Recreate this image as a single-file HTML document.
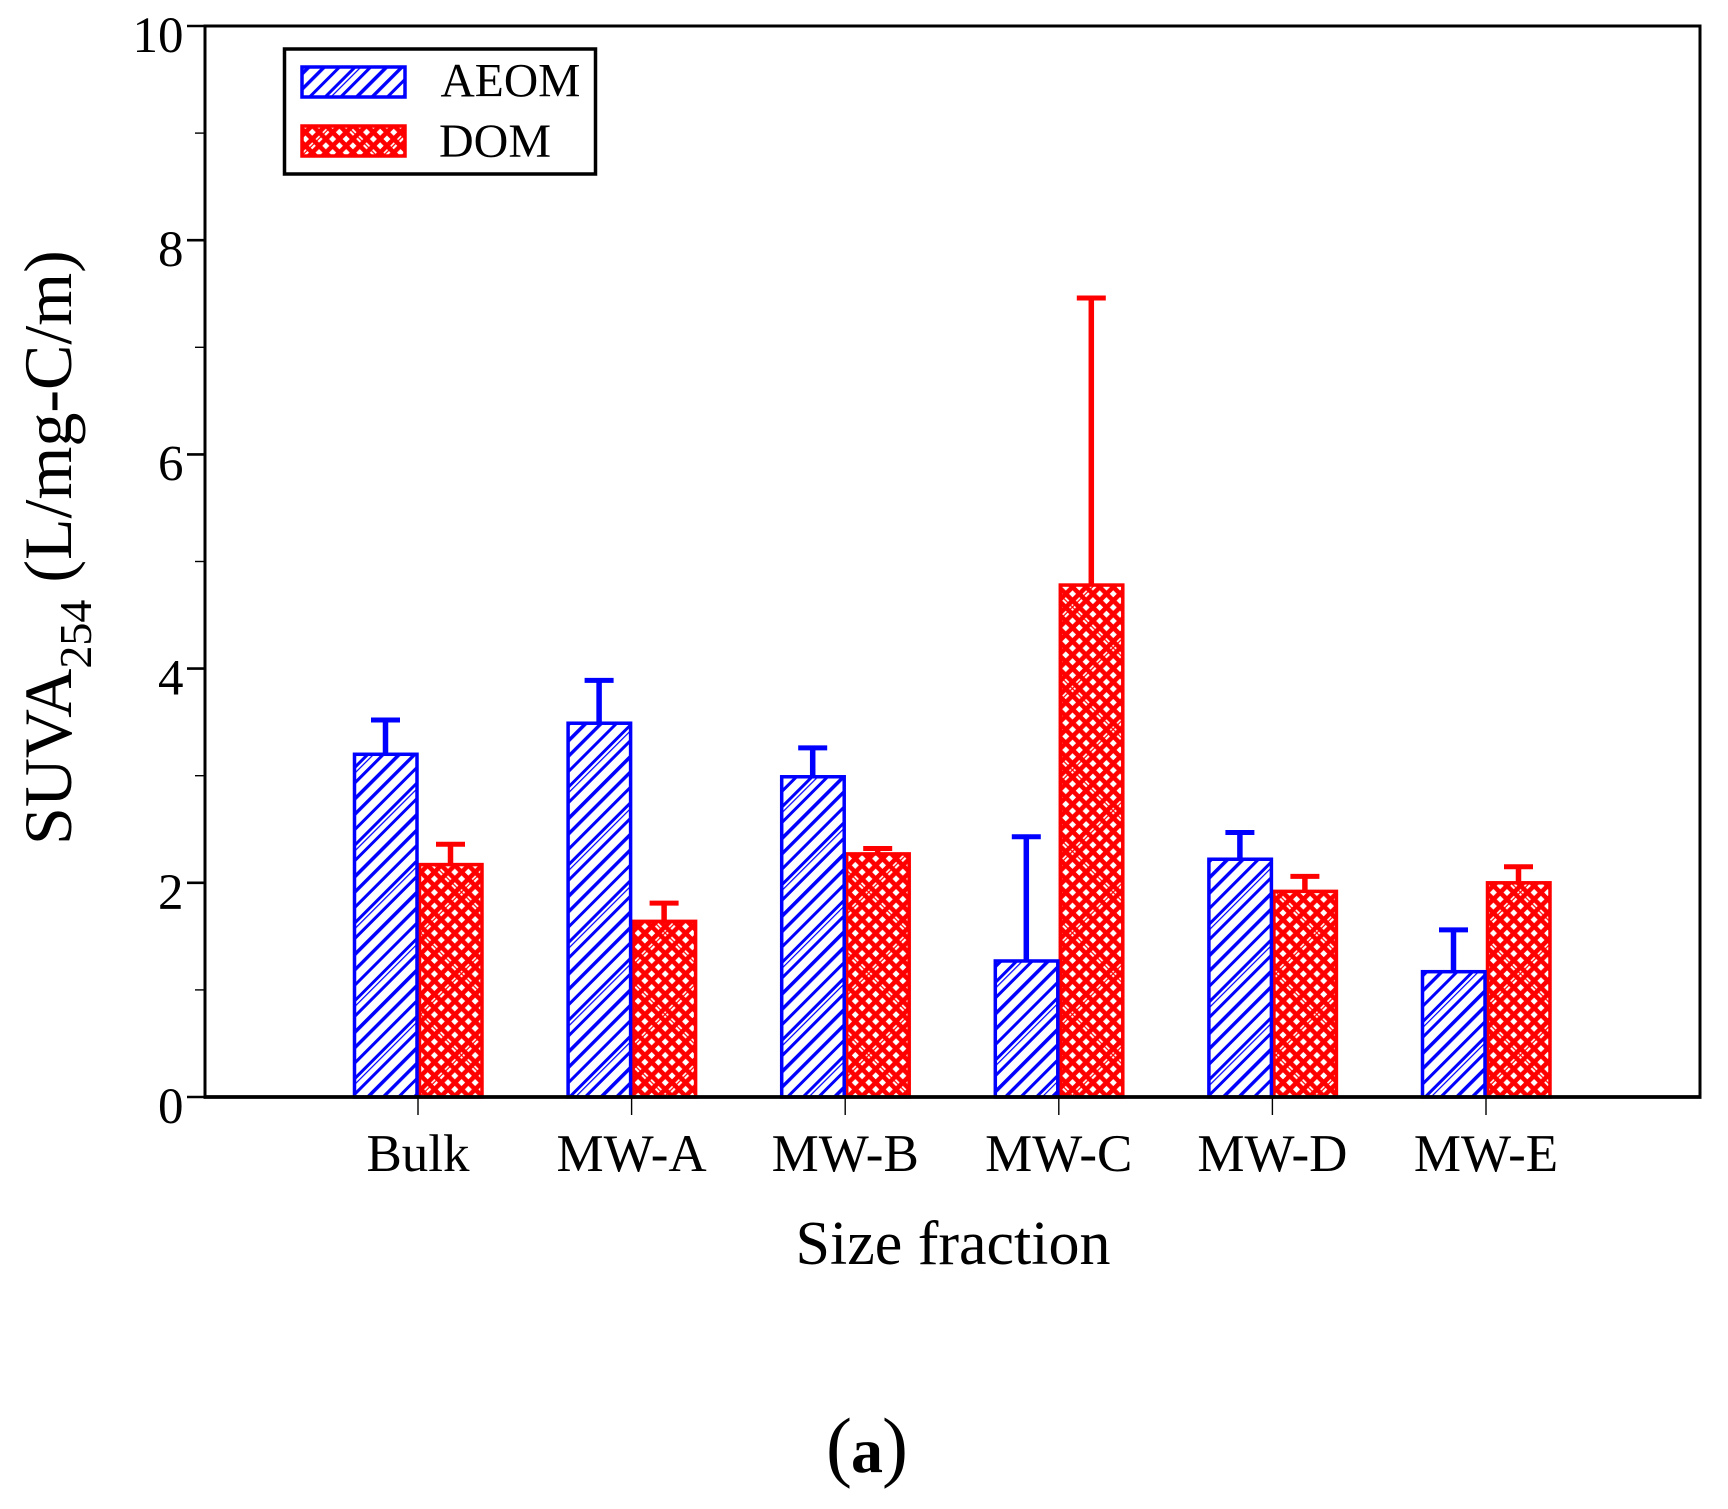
<!DOCTYPE html>
<html lang="en">
<head>
<meta charset="utf-8">
<title>SUVA254 by size fraction</title>
<style>
html,body{margin:0;padding:0;background:#fff;}
svg{display:block;font-family:"Liberation Serif",serif;}
</style>
</head>
<body>
<svg id="chart" xmlns="http://www.w3.org/2000/svg" width="1728" height="1509" viewBox="0 0 1728 1509">
  <defs>
    <pattern id="hatch-blue" patternUnits="userSpaceOnUse" width="55" height="55" patternTransform="rotate(45)">
      <rect width="55" height="55" fill="#fff"/>
      <rect x="0" y="0" width="3.4" height="55" fill="#0000ff"/>
      <rect x="11" y="0" width="3" height="55" fill="#0000ff"/>
      <rect x="22" y="0" width="3" height="55" fill="#0000ff"/>
      <rect x="27" y="0" width="1.2" height="55" fill="#0000ff"/>
      <rect x="33" y="0" width="3" height="55" fill="#0000ff"/>
      <rect x="44" y="0" width="3.6" height="55" fill="#0000ff"/>
    </pattern>
    <pattern id="hatch-red" patternUnits="userSpaceOnUse" width="57.6" height="57.6" patternTransform="rotate(45)">
      <rect width="57.6" height="57.6" fill="#fff"/>
      <rect x="0" y="0" width="4.6" height="57.6" fill="#ff0000"/>
      <rect x="9.6" y="0" width="4.6" height="57.6" fill="#ff0000"/>
      <rect x="19.2" y="0" width="4.6" height="57.6" fill="#ff0000"/>
      <rect x="28.8" y="0" width="4.6" height="57.6" fill="#ff0000"/>
      <rect x="38.4" y="0" width="4.6" height="57.6" fill="#ff0000"/>
      <rect x="48" y="0" width="4.6" height="57.6" fill="#ff0000"/>
      <rect x="35" y="0" width="1.2" height="57.6" fill="#ff0000"/>
      <rect x="0" y="0" width="57.6" height="4.6" fill="#ff0000"/>
      <rect x="0" y="9.6" width="57.6" height="4.6" fill="#ff0000"/>
      <rect x="0" y="19.2" width="57.6" height="4.6" fill="#ff0000"/>
      <rect x="0" y="28.8" width="57.6" height="4.6" fill="#ff0000"/>
      <rect x="0" y="38.4" width="57.6" height="4.6" fill="#ff0000"/>
      <rect x="0" y="48" width="57.6" height="4.6" fill="#ff0000"/>
      <rect x="0" y="16" width="57.6" height="1.2" fill="#ff0000"/>
    </pattern>
  </defs>
  <g id="bars"></g>
  <g id="axes"></g>
  <g id="legend">
    <rect x="284.5" y="49" width="311" height="125" fill="#fff" stroke="#000" stroke-width="3.5"/>
    <rect x="302" y="67" width="103" height="30" fill="url(#hatch-blue)" stroke="#0000ff" stroke-width="3.5"/>
    <text x="440.5" y="96.5" font-size="47.5">AEOM</text>
    <rect x="302" y="126" width="103" height="30" fill="url(#hatch-red)" stroke="#ff0000" stroke-width="3.5"/>
    <text x="439" y="157" font-size="48">DOM</text>
  </g>
  <text x="953" y="1264" font-size="62" text-anchor="middle">Size fraction</text>
  <text transform="translate(71 845) rotate(-90)" font-size="68">SUVA<tspan font-size="46" dy="20">254</tspan><tspan dy="-20"> (L/mg-C/m)</tspan></text>
  <text x="867" y="1472" font-size="78" text-anchor="middle"><tspan dx="0">(</tspan><tspan font-size="64" font-weight="bold" dx="-1">a</tspan><tspan dx="-1">)</tspan></text>
</svg>
<script>
const categories = ["Bulk", "MW-A", "MW-B", "MW-C", "MW-D", "MW-E"];
const aeomValues = [3.20, 3.49, 2.99, 1.27, 2.22, 1.17];
const aeomErrors = [0.32, 0.40, 0.27, 1.16, 0.25, 0.39];
const domValues = [2.17, 1.64, 2.27, 4.78, 1.92, 2.00];
const domErrors = [0.19, 0.17, 0.05, 2.68, 0.14, 0.15];
const majorTicks = [0, 2, 4, 6, 8, 10];
const minorTicks = [1, 3, 5, 7, 9];

const SVG_NS = "http://www.w3.org/2000/svg";
const plot = {left: 205, right: 1700, top: 26, bottom: 1097};
const yMax = 10;
const firstCenter = 418;
const groupStep = 213.6;
const barWidth = 65;

function yScale(v) {
  return plot.bottom - (v / yMax) * (plot.bottom - plot.top);
}
function xCenter(i) {
  return firstCenter + i * groupStep;
}
function make(tag, attrs, parent) {
  const el = document.createElementNS(SVG_NS, tag);
  for (const k in attrs) el.setAttribute(k, attrs[k]);
  parent.appendChild(el);
  return el;
}

const barsG = document.getElementById("bars");
const axesG = document.getElementById("axes");

function drawSeries(values, errors, side, color, fill, key) {
  values.forEach(function (v, i) {
    const x0 = side < 0 ? xCenter(i) - barWidth : xCenter(i);
    const mid = x0 + barWidth / 2;
    const top = yScale(v);
    const errTop = yScale(v + errors[i]);

    const stem = make("line", {x1: mid, x2: mid, y1: top, y2: errTop, stroke: color, "stroke-width": 5.5}, barsG);
    
    

    const cap = make("line", {x1: mid - 14.5, x2: mid + 14.5, y1: errTop, y2: errTop, stroke: color, "stroke-width": 5}, barsG);
    
    

    const bar = make("rect", {x: x0 + 1.5, y: top, width: barWidth - 2.5, height: plot.bottom - top, fill: fill, stroke: color, "stroke-width": 3.5}, barsG);
    
    
  });
}
drawSeries(domValues, domErrors, 1, "#ff0000", "url(#hatch-red)", "dom");
drawSeries(aeomValues, aeomErrors, -1, "#0000ff", "url(#hatch-blue)", "aeom");

const frameTop = make("line", {x1: plot.left - 1.5, x2: plot.right + 1.5, y1: plot.top, y2: plot.top, stroke: "#000", "stroke-width": 3}, axesG);



const frameRight = make("line", {x1: plot.right, x2: plot.right, y1: plot.top, y2: plot.bottom, stroke: "#000", "stroke-width": 3}, axesG);



const yAxisLine = make("line", {x1: plot.left, x2: plot.left, y1: plot.top, y2: plot.bottom, stroke: "#000", "stroke-width": 3}, axesG);



const xAxisLine = make("line", {x1: plot.left - 1.5, x2: plot.right + 1.5, y1: plot.bottom, y2: plot.bottom, stroke: "#000", "stroke-width": 3.8}, axesG);



majorTicks.forEach(function (t) {
  const y = yScale(t);
  const tick = make("line", {x1: 187, x2: plot.left, y1: y, y2: y, stroke: "#000", "stroke-width": 2.6}, axesG);
  
  
  const label = make("text", {x: 183.5, y: y + 26, "font-size": 51, "text-anchor": "end"}, axesG);
  
  
  label.textContent = String(t);
});
minorTicks.forEach(function (t) {
  const y = yScale(t);
  const tick = make("line", {x1: 195, x2: plot.left, y1: y, y2: y, stroke: "#000", "stroke-width": 1.4}, axesG);
  
  
});
categories.forEach(function (c, i) {
  const x = xCenter(i);
  const tick = make("line", {x1: x, x2: x, y1: plot.bottom, y2: 1115, stroke: "#000", "stroke-width": 1.4}, axesG);
  
  
  const label = make("text", {x: x, y: 1171, "font-size": 53, "text-anchor": "middle"}, axesG);
  
  
  label.textContent = c;
});
</script>
</body>
</html>
